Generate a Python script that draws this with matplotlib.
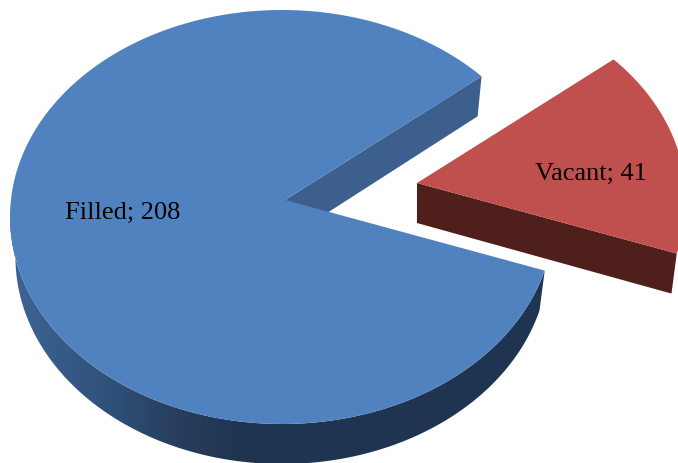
import numpy as np
import matplotlib
matplotlib.use("Agg")
import matplotlib.pyplot as plt
from matplotlib.patches import Polygon
from matplotlib.colors import LinearSegmentedColormap

categories = ["Filled", "Vacant"]
values = [208, 41]

W, H = 678, 463
CX, CY, RX, RY = 282, 217, 272, 207
APEX = np.array([285.0, 200.0])
DEPTH = 40
TAPER = 0.98          # the lower face is a little narrower (perspective)
FORESHORTEN = 0.975   # the far side of the pie is foreshortened
EXPLODE = np.array([132.0, -17.0])
END_DEG = -15.0

plt.rcParams["font.family"] = ["Liberation Serif", "DejaVu Serif"]
fig = plt.figure(figsize=(W / 100, H / 100), dpi=100)
ax = fig.add_axes([0, 0, 1, 1])
ax.set_xlim(0, W)
ax.set_ylim(H, 0)
ax.axis("off")


def rim(a0, a1, n=300):
    t = np.radians(np.linspace(a0, a1, n))
    return np.column_stack([CX + RX * np.cos(t), CY - RY * np.sin(t)])


def lower(pts):
    pts = np.atleast_2d(pts)
    return np.column_stack([CX + (pts[:, 0] - CX) * TAPER, pts[:, 1] + DEPTH])


vac_sweep = 360 * values[1] / sum(values) * FORESHORTEN
vac0, vac1 = END_DEG, END_DEG + vac_sweep
fill0, fill1 = vac1, END_DEG + 360

# Filled: cut face seen through the gap
p = rim(fill0, fill0, 1)
ax.add_patch(Polygon(np.vstack([APEX, p, lower(p), lower(APEX)]), closed=True,
                     fc="#3c5f8e", ec="none", zorder=1))

# Filled: outer wall with horizontal gradient
arc = rim(180, 360 + END_DEG)
wall = np.vstack([arc, lower(arc)[::-1]])
cmap = LinearSegmentedColormap.from_list(
    "wall", [(0, "#3f6596"), (0.04, "#3b6190"), (0.19, "#2f5078"), (0.30, "#283f60"),
             (0.43, "#1f3450"), (1, "#1f3550")])
grad = np.linspace(0, 1, 256)[None, :]
im = ax.imshow(grad, cmap=cmap, extent=(arc[:, 0].min(), arc[:, 0].max(), H, 0),
               aspect="auto", zorder=2)
clip = Polygon(wall, closed=True, transform=ax.transData, fc="none", ec="none")
ax.add_patch(clip)
im.set_clip_path(clip)
ax.set_xlim(0, W)
ax.set_ylim(H, 0)

# Filled: top face
ax.add_patch(Polygon(np.vstack([APEX, rim(fill0, fill1)]), closed=True,
                     fc="#5082bf", ec="none", zorder=3))

# Vacant: cut face, then top
vp = rim(vac0, vac1)
ax.add_patch(Polygon(np.vstack([APEX, vp[:1], lower(vp[:1]), lower(APEX)]) + EXPLODE,
                     closed=True, fc="#4f1f1c", ec="none", zorder=4))
ax.add_patch(Polygon(np.vstack([APEX, vp]) + EXPLODE, closed=True,
                     fc="#c0504d", ec="none", zorder=5))

# Labels
ax.text(123, 213, f"{categories[0]}; {values[0]}", fontsize=19, color="#000000",
        ha="center", va="center", zorder=6)
ax.text(591, 174, f"{categories[1]}; {values[1]}", fontsize=19, color="#000000",
        ha="center", va="center", zorder=6)

fig.savefig("out.png", dpi=100)
